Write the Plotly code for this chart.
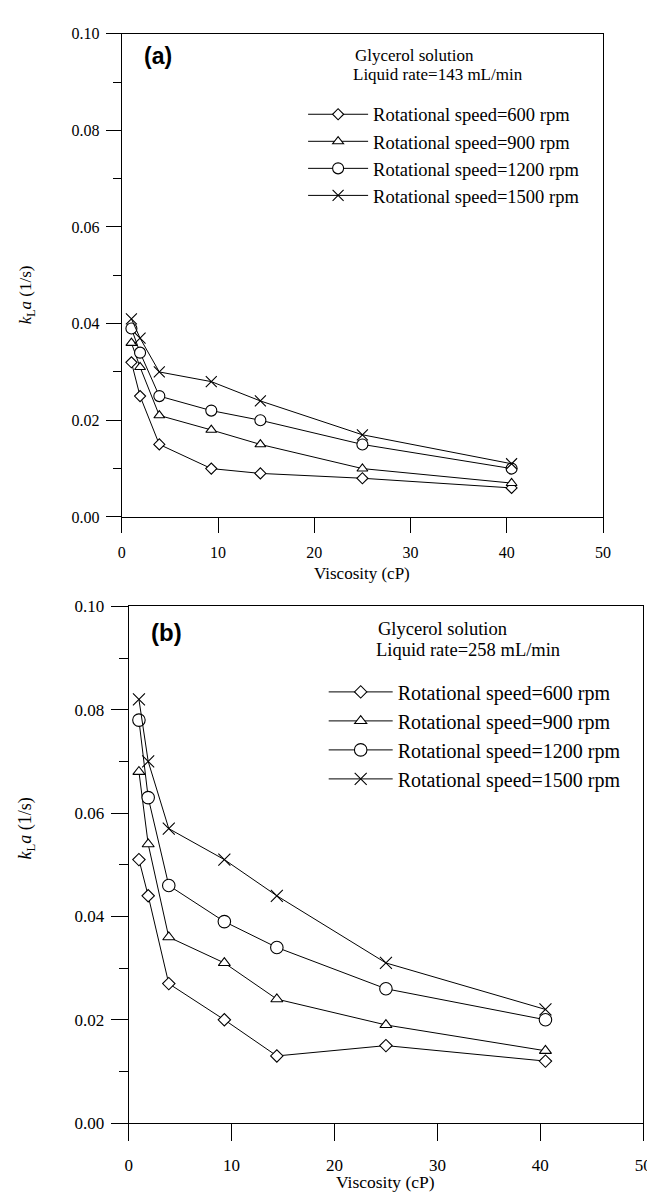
import plotly.graph_objects as go

W, H = 655, 1193

# ---------------- data ----------------
viscosity = [1.0, 1.9, 3.9, 9.3, 14.4, 25.0, 40.5]
speeds = ["Rotational speed=600 rpm", "Rotational speed=900 rpm",
          "Rotational speed=1200 rpm", "Rotational speed=1500 rpm"]

# panel (a): liquid rate 143 mL/min
a_600 = [0.032, 0.025, 0.015, 0.010, 0.009, 0.008, 0.006]
a_900 = [0.036, 0.031, 0.021, 0.018, 0.015, 0.010, 0.007]
a_1200 = [0.039, 0.034, 0.025, 0.022, 0.020, 0.015, 0.010]
a_1500 = [0.041, 0.037, 0.030, 0.028, 0.024, 0.017, 0.011]

# panel (b): liquid rate 258 mL/min
b_600 = [0.051, 0.044, 0.027, 0.020, 0.013, 0.015, 0.012]
b_900 = [0.068, 0.054, 0.036, 0.031, 0.024, 0.019, 0.014]
b_1200 = [0.078, 0.063, 0.046, 0.039, 0.034, 0.026, 0.020]
b_1500 = [0.082, 0.070, 0.057, 0.051, 0.044, 0.031, 0.022]

x_ticks = [0, 10, 20, 30, 40, 50]
y_ticks = [0.00, 0.02, 0.04, 0.06, 0.08, 0.10]

symbols = ["diamond", "triangle-up", "circle", "x-thin"]
sizes_a = [8.5, 9.5, 11, 11]
sizes_b = [9.5, 10.5, 12.5, 12]

SERIF = "Times New Roman, Liberation Serif, serif"
SANS = "Arial, Liberation Sans, sans-serif"

fig = go.Figure()


def add_series(ys_list, xa, ya, legend, sizes):
    for name, ys, sym, sz in zip(speeds, ys_list, symbols, sizes):
        fig.add_trace(go.Scatter(
            x=viscosity, y=ys, name=name, mode="lines+markers",
            xaxis=xa, yaxis=ya, legend=legend,
            line=dict(color="black", width=1),
            marker=dict(symbol=sym, size=sz, color="white",
                        line=dict(color="black", width=1.1)),
        ))


add_series([a_600, a_900, a_1200, a_1500], "x", "y", "legend", sizes_a)
add_series([b_600, b_900, b_1200, b_1500], "x2", "y2", "legend2", sizes_b)


def px_x(p):
    return p / W


def px_y(p):
    return 1 - p / H


axis_common = dict(showline=True, linecolor="black", linewidth=1, mirror=True,
                   ticks="outside", tickcolor="black", tickwidth=1,
                   showgrid=False, zeroline=False)

fig.update_layout(
    font=dict(family=SERIF, color="black"),
    xaxis=dict(domain=[px_x(112), px_x(603)], range=[0, 50], tickvals=x_ticks,
               ticklen=15, ticklabelstandoff=6, anchor="y",
               tickfont=dict(family=SERIF, size=16, color="black"), **axis_common),
    yaxis=dict(domain=[px_y(508), px_y(17)], range=[0, 0.1], tickvals=y_ticks,
               tickformat=".2f", ticklen=15, ticklabelstandoff=3, anchor="x",
               minor=dict(dtick=0.01, ticklen=8, ticks="outside", tickcolor="black"),
               tickfont=dict(family=SERIF, size=16, color="black"), **axis_common),
    xaxis2=dict(domain=[px_x(119), px_x(644)], range=[0, 50], tickvals=x_ticks,
                ticklen=17, ticklabelstandoff=10, anchor="y2",
                tickfont=dict(family=SERIF, size=17, color="black"), **axis_common),
    yaxis2=dict(domain=[px_y(1124), px_y(599)], range=[0, 0.1], tickvals=y_ticks,
                tickformat=".2f", ticklen=17, ticklabelstandoff=3, anchor="x2",
                minor=dict(dtick=0.01, ticklen=9, ticks="outside", tickcolor="black"),
                tickfont=dict(family=SERIF, size=17, color="black"), **axis_common),
)

fig.update_layout(
    width=W, height=H, margin=dict(l=0, r=0, t=0, b=0),
    paper_bgcolor="white", plot_bgcolor="white", showlegend=True,
    legend=dict(x=px_x(297), y=px_y(80), xanchor="left", yanchor="top",
                bgcolor="rgba(0,0,0,0)", itemwidth=60, tracegroupgap=0,
                font=dict(family=SERIF, size=18.5, color="black")),
    legend2=dict(x=px_x(318), y=px_y(666), xanchor="left", yanchor="top",
                 bgcolor="rgba(0,0,0,0)", itemwidth=64, tracegroupgap=0,
                 font=dict(family=SERIF, size=20, color="black")),
)

ann = []


def text_ann(text, x, y, size, family=SERIF, xanchor="left", angle=0):
    ann.append(dict(text=text, x=px_x(x), y=px_y(y), xref="paper", yref="paper",
                    xanchor=xanchor, yanchor="middle", showarrow=False,
                    textangle=angle, font=dict(family=family, size=size, color="black")))


# panel labels
text_ann("<b>(a)</b>", 133, 40, 23, family=SANS)
text_ann("<b>(b)</b>", 140, 625, 24, family=SANS)
# legend headers
text_ann("Glycerol solution", 348, 39, 17)
text_ann("Liquid rate=143 mL/min", 346, 58, 17)
text_ann("Glycerol solution", 371, 622, 18.5)
text_ann("Liquid rate=258 mL/min", 369, 643, 18.5)
# axis titles
text_ann("<i>k</i><sub>L</sub><i>a</i> (1/s)", 15, 282, 17, xanchor="center", angle=-90)
text_ann("<i>k</i><sub>L</sub><i>a</i> (1/s)", 15, 825, 18, xanchor="center", angle=-90)
text_ann("Viscosity (cP)", 357, 566, 17, xanchor="center")
text_ann("Viscosity (cP)", 381, 1184, 17.5, xanchor="center")
fig.update_layout(annotations=ann)

fig.write_html("out.html")
